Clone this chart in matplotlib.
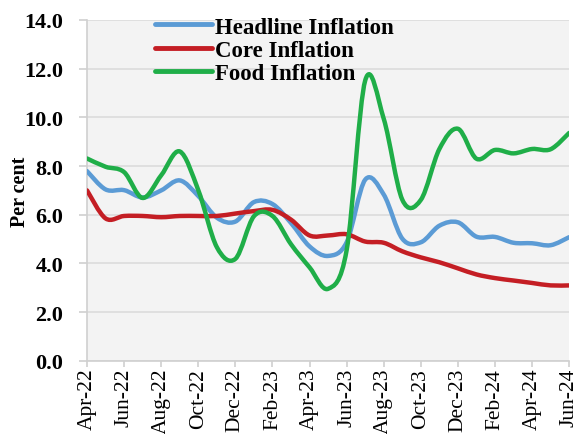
import matplotlib

matplotlib.use("Agg")

import matplotlib.pyplot as plt
import numpy as np
from matplotlib.lines import Line2D
from matplotlib.path import Path
from matplotlib.patches import PathPatch

months = ["Apr-22", "May-22", "Jun-22", "Jul-22", "Aug-22", "Sep-22", "Oct-22", "Nov-22", "Dec-22",
          "Jan-23", "Feb-23", "Mar-23", "Apr-23", "May-23", "Jun-23", "Jul-23", "Aug-23", "Sep-23",
          "Oct-23", "Nov-23", "Dec-23", "Jan-24", "Feb-24", "Mar-24", "Apr-24", "May-24", "Jun-24"]
headline = [7.79, 7.04, 7.01, 6.71, 7.00, 7.41, 6.77, 5.88, 5.72, 6.52, 6.44, 5.66, 4.70, 4.31,
            4.87, 7.44, 6.83, 5.02, 4.87, 5.55, 5.69, 5.10, 5.09, 4.85, 4.83, 4.75, 5.08]
core = [7.00, 5.85, 5.95, 5.95, 5.90, 5.95, 5.95, 5.95, 6.05, 6.15, 6.20, 5.80, 5.15, 5.15,
        5.20, 4.90, 4.85, 4.50, 4.25, 4.05, 3.80, 3.55, 3.40, 3.30, 3.20, 3.10, 3.10]
food = [8.31, 7.97, 7.75, 6.69, 7.62, 8.60, 7.01, 4.67, 4.19, 5.94, 5.95, 4.79, 3.84, 2.96,
        4.55, 11.51, 9.94, 6.62, 6.61, 8.70, 9.53, 8.30, 8.66, 8.52, 8.70, 8.69, 9.36]

series = [
    ("Headline Inflation", headline, "#5b9bd5"),
    ("Core Inflation", core, "#c41e24"),
    ("Food Inflation", food, "#1fae48"),
]

plt.rcParams["font.family"] = "Liberation Serif"


def smooth_path(xs, ys):
    # Excel-style smoothed line: cubic bezier through every point
    pts = np.column_stack([xs, ys])
    n = len(pts)
    verts = [pts[0]]
    codes = [Path.MOVETO]
    for i in range(n - 1):
        p0 = pts[max(i - 1, 0)]
        p1 = pts[i]
        p2 = pts[i + 1]
        p3 = pts[min(i + 2, n - 1)]
        verts += [p1 + (p2 - p0) / 6, p2 - (p3 - p1) / 6, p2]
        codes += [Path.CURVE4] * 3
    return Path(verts, codes)


fig = plt.figure(figsize=(5.88, 4.35), dpi=100)
ax = fig.add_axes([0.148, 0.168, 0.82, 0.784])
ax.set_facecolor("#f3f3f3")

x = np.arange(len(months))
handles = []
for name, vals, col in series:
    patch = PathPatch(smooth_path(x, vals), facecolor="none", edgecolor=col,
                      lw=3.2, capstyle="round", joinstyle="round", zorder=3)
    ax.add_patch(patch)
    handles.append(Line2D([], [], color=col, lw=3.5, solid_capstyle="round", label=name))

ax.set_xlim(0, len(months) - 1)
ax.set_ylim(0, 14)
ax.set_yticks(np.arange(0, 14.1, 2))
ax.set_yticklabels([f"{v:.1f}" for v in np.arange(0, 14.1, 2)], fontsize=16, fontweight="bold")
ax.set_xticks(x[::2])
ax.set_xticklabels(months[::2], rotation=90, fontsize=15.5)
ax.grid(axis="y", color="#dcdcdc", lw=1.2)
ax.set_axisbelow(True)

for side in ["top", "right"]:
    ax.spines[side].set_visible(False)
for side in ["left", "bottom"]:
    ax.spines[side].set_color("#d0d0d0")
    ax.spines[side].set_linewidth(1.2)
ax.tick_params(axis="y", color="#d0d0d0", length=6, width=1.2, pad=11)
ax.tick_params(axis="x", color="#d0d0d0", length=4, width=1.2, pad=1)

ax.set_ylabel("Per cent", fontsize=14.5, fontweight="bold")
ax.yaxis.set_label_coords(-0.118, 0.5)

ax.legend(handles=handles, loc="upper left", bbox_to_anchor=(0.142, 1.01), frameon=False,
          prop={"size": 16.5, "weight": "bold"}, handlelength=2.45, handletextpad=0.15,
          labelspacing=0.1, borderpad=0, borderaxespad=0)

fig.savefig("out.png", dpi=100)
